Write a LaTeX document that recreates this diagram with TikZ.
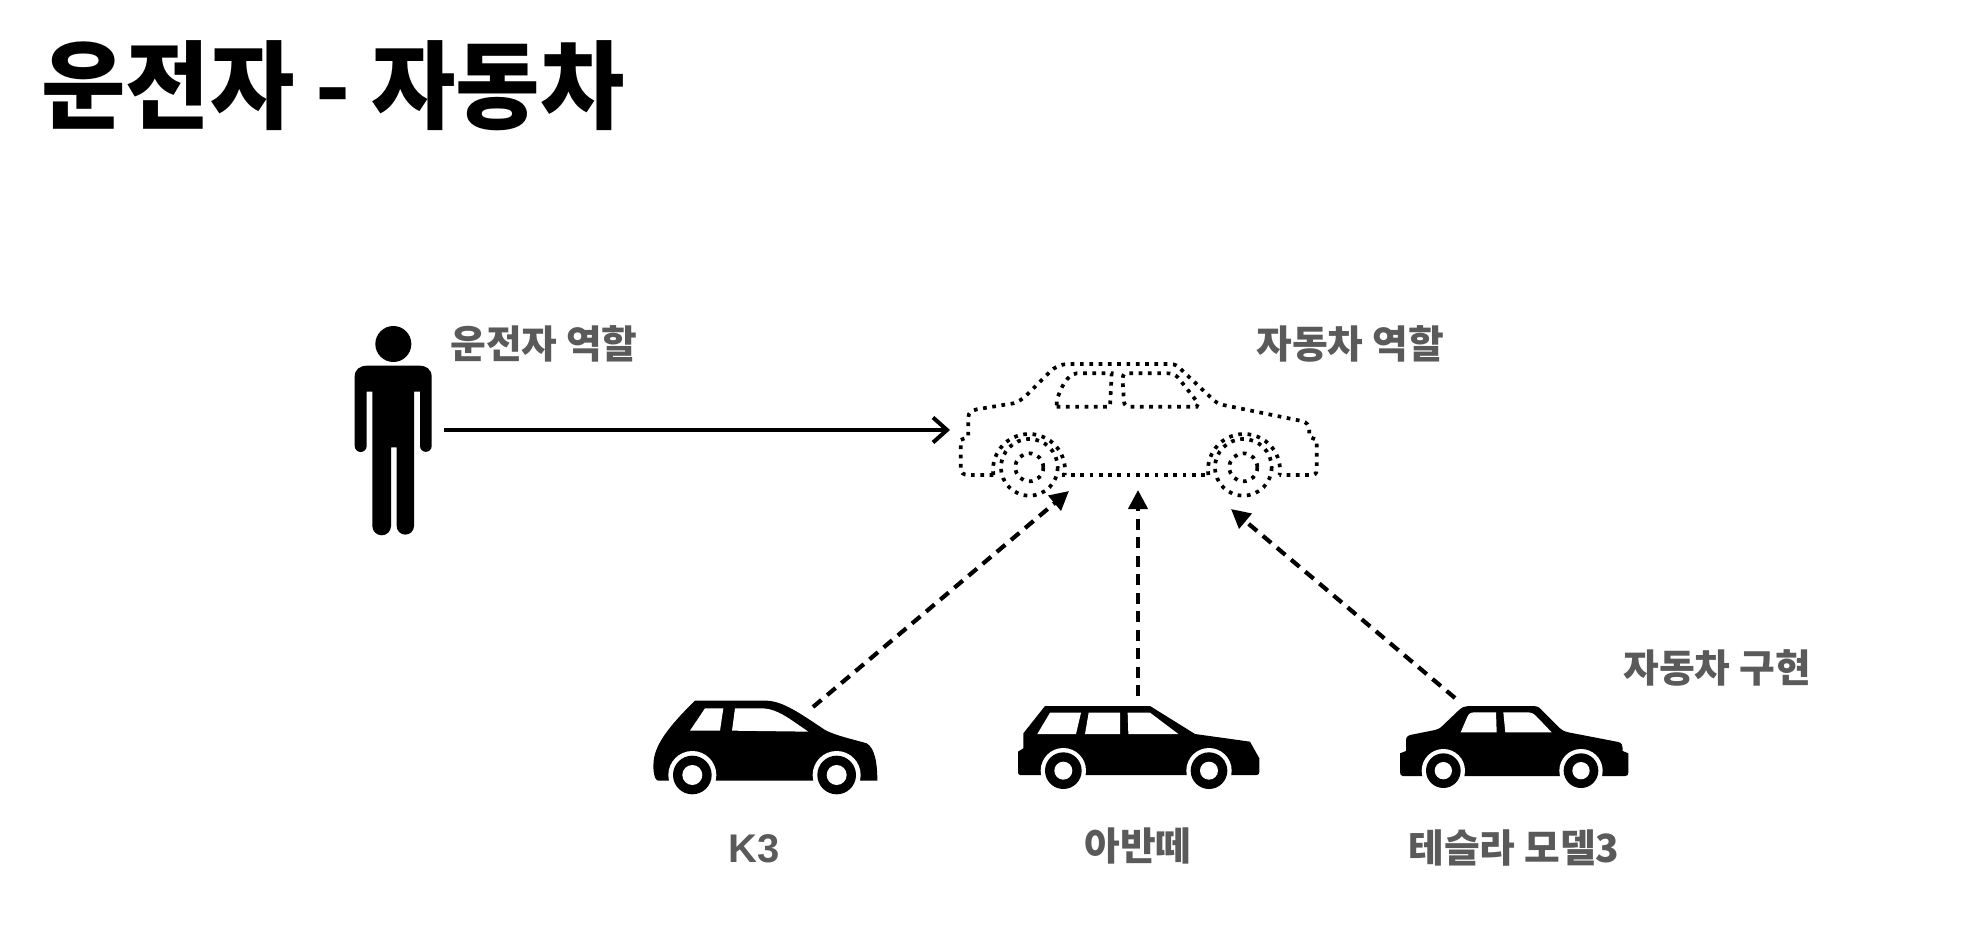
\documentclass[tikz,border=0pt]{standalone}
\usepackage{fontspec}
\usetikzlibrary{arrows.meta}
\newfontfamily\krfont{Noto Sans CJK KR}
\newfontfamily\latinfont{Liberation Sans}
\definecolor{labelgray}{HTML}{5A5A5A}
\tikzset{
  titletext/.style={inner sep=0pt,anchor=center,text=black,xscale=0.955,font=\krfont\bfseries\fontsize{96}{100}\selectfont},
  labeltext/.style={inner sep=0pt,anchor=center,text=labelgray,font=\krfont\bfseries\fontsize{38.8}{42}\selectfont},
  latinlabel/.style={labeltext,font=\latinfont\bfseries\fontsize{40}{44}\selectfont},
  dotline/.style={draw=black,line width=3.7pt,dash pattern=on 3.7pt off 5.6pt},
  glyphfill/.style={fill=black,draw=none},
  gapfill/.style={fill=white,draw=none},
  solidarrow/.style={draw=black,line width=4pt,-{Straight Barb[length=14pt,width=25pt,line width=4pt]}},
  dasharrow/.style={draw=black,line width=4.2pt,dash pattern=on 11pt off 7.5pt,-{Triangle[length=19pt,width=19pt]}},
  zoomframe/.style={shift={#1},scale=1/3}
}
\newcommand{\carwheel}[5]{% x y gap outer hub
  \fill[gapfill] (#1,#2) circle (#3);
  \fill[glyphfill] (#1,#2) circle (#4);
  \fill[gapfill] (#1,#2) circle (#5);
}
\begin{document}
\begin{tikzpicture}[x=1pt,y=-1pt]
\useasboundingbox (0,0) rectangle (1984,936);
\fill[white] (0,0) rectangle (1984,936);

\node[titletext] (title) at (333,86) {운전자 - 자동차};

% person
\begin{scope}[zoomframe={(340,310)}]
  \fill[glyphfill] (160,102) circle (54);
  \fill[glyphfill] (44,200) .. controls (44,178) and (60,167) .. (82,167)
    -- (237,167) .. controls (259,167) and (275,178) .. (275,200)
    -- (275,408) arc[start angle=0,end angle=180,radius=17.5]
    -- (240,245) -- (222,245) -- (222,648) arc[start angle=0,end angle=180,radius=26]
    -- (170,412) -- (153,412) -- (153,648) arc[start angle=0,end angle=180,radius=28]
    -- (97,245) -- (80,245) -- (80,408) arc[start angle=0,end angle=180,radius=18] -- cycle;
\end{scope}

% role car (dotted)
\begin{scope}[zoomframe={(940,340)}]
  \draw[dotline] (160,405) -- (85,405) .. controls (70,405) and (62,398) .. (62,385) -- (62,300) -- (85,290) -- (85,232)
    .. controls (85,218) and (95,212) .. (110,208) -- (220,190) .. controls (235,186) and (245,178) .. (255,170)
    -- (330,95) .. controls (345,80) and (365,72) .. (385,72) -- (690,72) .. controls (705,72) and (715,78) .. (725,90)
    -- (815,175) .. controls (825,185) and (835,192) .. (850,195) -- (1085,243) .. controls (1100,247) and (1108,255) .. (1108,270)
    -- (1108,290) -- (1130,300) -- (1130,390) .. controls (1130,400) and (1125,405) .. (1115,405) -- (1018,405);
  \draw[dotline] (365,405) -- (805,405);
  \draw[dotline] (160,405) arc[start angle=172,end angle=368,radius=108];
  \draw[dotline] (805,405) arc[start angle=172,end angle=368,radius=108];
  \draw[dotline] (268,382) circle (85);
  \draw[dotline] (268,382) circle (42);
  \draw[dotline] (910,382) circle (85);
  \draw[dotline] (910,382) circle (42);
  \draw[dotline] (350,200) -- (510,200) -- (515,100) -- (410,100) .. controls (380,105) and (365,140) .. (350,180) -- cycle;
  \draw[dotline] (552,185) .. controls (552,195) and (560,200) .. (570,200) -- (770,200) -- (775,190) -- (720,120)
    .. controls (705,100) and (695,100) .. (680,100) -- (560,100) .. controls (548,100) and (548,110) .. (548,125) -- cycle;
\end{scope}

% K3
\begin{scope}[zoomframe={(640,680)}]
  \fill[glyphfill] (55,302) .. controls (40,300) and (38,260) .. (42,235) .. controls (50,190) and (85,140) .. (165,62)
    -- (380,62) .. controls (430,64) and (480,100) .. (555,150) .. controls (590,168) and (640,178) .. (680,190)
    .. controls (705,205) and (712,250) .. (712,302) -- cycle;
  \fill[gapfill] (150,152) -- (195,85) -- (250,85) -- (240,152) -- cycle;
  \fill[gapfill] (276,152) -- (285,85) -- (370,85) .. controls (415,88) and (450,118) .. (505,155) -- cycle;
  \carwheel{157}{285}{72}{58}{30}
  \carwheel{590}{285}{72}{58}{30}
\end{scope}

% Avante
\begin{scope}[zoomframe={(1000,690)}]
  \fill[glyphfill] (60,255) .. controls (55,255) and (54,250) .. (54,245) -- (54,185) -- (70,175) -- (70,130) -- (135,48)
    -- (450,48) -- (585,132) -- (750,155) -- (778,205) -- (778,245) .. controls (778,252) and (775,255) .. (770,255) -- cycle;
  \fill[gapfill] (112,132) -- (150,68) -- (243,68) -- (228,132) -- cycle;
  \fill[gapfill] (255,132) -- (266,68) -- (360,68) -- (360,132) -- cycle;
  \fill[gapfill] (385,132) -- (383,68) -- (450,68) -- (535,132) -- cycle;
  \carwheel{190}{242}{68}{55}{27}
  \carwheel{627}{242}{68}{55}{27}
\end{scope}

% Model 3
\begin{scope}[zoomframe={(1380,690)}]
  \fill[glyphfill] (68,258) .. controls (62,258) and (60,252) .. (60,245) -- (60,190) -- (78,183) -- (78,150)
    .. controls (78,140) and (85,136) .. (95,134) -- (165,120) .. controls (180,116) and (185,110) .. (195,100) -- (235,62)
    .. controls (245,52) and (255,48) .. (265,48) -- (460,48) .. controls (475,48) and (480,55) .. (490,65) -- (540,115)
    .. controls (548,122) and (555,125) .. (565,127) -- (715,156) .. controls (725,158) and (728,165) .. (728,183)
    -- (745,190) -- (745,248) .. controls (745,255) and (742,258) .. (735,258) -- cycle;
  \fill[gapfill] (242,127) -- (260,85) .. controls (266,70) and (272,67) .. (285,67) -- (348,67) -- (350,127) -- cycle;
  \fill[gapfill] (376,127) -- (370,67) -- (440,67) .. controls (455,67) and (460,70) .. (470,80) -- (515,127) -- cycle;
  \carwheel{190}{242}{65}{52}{26}
  \carwheel{603}{242}{65}{52}{26}
\end{scope}

% labels
\node[labeltext] (driverlabel) at (544,344) {운전자 역할};
\node[labeltext] (rolelabel) at (1350,344) {자동차 역할};
\node[labeltext] (implabel) at (1717,668) {자동차 구현};
\node[latinlabel] (ktlabel) at (754,849) {K3};
\node[labeltext] (avlabel) at (1138,846) {아반떼};
\node[labeltext] (tslabel) at (1514,848) {테슬라 모델3};

% connectors
\coordinate (personout) at (444,430);
\coordinate (roleleft) at (950,430);
\coordinate (ktstart) at (813,707);
\coordinate (ktend) at (1069,491);
\coordinate (avstart) at (1138,696);
\coordinate (avend) at (1138,490);
\coordinate (tsstart) at (1455,698);
\coordinate (tsend) at (1231,509);
\draw[solidarrow] (personout) -- (roleleft);
\draw[dasharrow] (ktstart) -- (ktend);
\draw[dasharrow] (avstart) -- (avend);
\draw[dasharrow] (tsstart) -- (tsend);
\end{tikzpicture}
\end{document}
